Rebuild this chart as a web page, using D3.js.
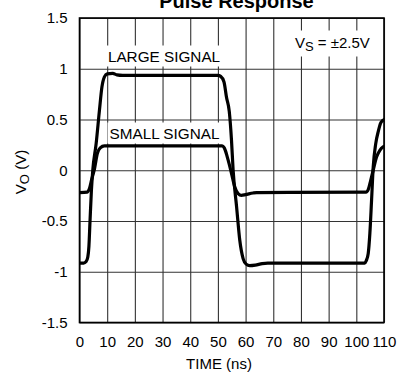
<!DOCTYPE html>
<html>
<head>
<meta charset="utf-8">
<script src="https://cdn.jsdelivr.net/npm/d3@7"></script>
<style>
  html, body { margin: 0; padding: 0; background: #fff; }
  svg { display: block; font-family: "Liberation Sans", Arial, Helvetica, sans-serif; }
</style>
</head>
<body>
<svg id="chart" width="404" height="373"></svg>
<script>
// ---- data ----
const xTicks = [0, 10, 20, 30, 40, 50, 60, 70, 80, 90, 100, 110];
const yTicks = [-1.5, -1, -0.5, 0, 0.5, 1, 1.5];
const yTickLabels = ["-1.5", "-1", "-0.5", "0", "0.5", "1", "1.5"];

// time (ns)
const largeT = [0, 1.5, 2.4, 3.0, 3.4, 3.8, 4.3, 4.8, 6.0, 7.2, 8.1, 9.0, 10, 12, 13.5, 15.6, 50, 51, 52.2, 53.1, 54.1, 54.9, 55.5, 56.75, 57.9, 59.1, 60.2, 61.5, 63.5, 66, 68, 103, 103.6, 104.3, 104.9, 105.5, 106.1, 107, 108, 108.7, 109.5, 110];
// VO (V)
const largeV = [-0.915, -0.915, -0.9, -0.855, -0.75, -0.5, -0.2, 0, 0.26, 0.59, 0.82, 0.92, 0.95, 0.955, 0.94, 0.935, 0.935, 0.925, 0.87, 0.72, 0.58, 0.30, 0, -0.36, -0.69, -0.87, -0.925, -0.94, -0.935, -0.92, -0.915, -0.915, -0.89, -0.82, -0.62, -0.30, 0.03, 0.26, 0.39, 0.46, 0.49, 0.5];

const smallT = [0, 2.8, 3.6, 4.4, 5.3, 6.5, 7.5, 9, 51.5, 52.3, 53.7, 54.9, 56.1, 57.3, 58.5, 60, 62.7, 64, 103.5, 104.3, 105.2, 106.1, 107.3, 108.5, 109.7, 110];
const smallV = [-0.22, -0.215, -0.18, -0.09, 0, 0.17, 0.22, 0.24, 0.24, 0.22, 0.1, -0.03, -0.165, -0.23, -0.247, -0.24, -0.224, -0.22, -0.215, -0.19, -0.1, 0, 0.13, 0.197, 0.23, 0.235];

const title = "Pulse Response";
const xTitle = "TIME (ns)";

// ---- layout ----
const svg = d3.select("#chart");
const L = 79.5, R = 384, T = 18, B = 322.5;
const x = d3.scaleLinear().domain([0, 110]).range([L, R]);
const y = d3.scaleLinear().domain([-1.5, 1.5]).range([B, T]);

// grid
const grid = svg.append("g");
grid.append("g")
  .attr("transform", `translate(0,${B})`)
  .call(d3.axisBottom(x).tickValues(xTicks).tickSize(-(B - T)).tickFormat(""))
  .call(g => g.select(".domain").remove())
  .call(g => g.selectAll("line").attr("stroke", "#333").attr("stroke-width", 1.1));
grid.append("g")
  .attr("transform", `translate(${L},0)`)
  .call(d3.axisLeft(y).tickValues(yTicks).tickSize(-(R - L)).tickFormat(""))
  .call(g => g.select(".domain").remove())
  .call(g => g.selectAll("line").attr("stroke", "#333").attr("stroke-width", 1.1));

// text labels with white boxes
function boxedText(g, build, pad) {
  const grp = g.append("g");
  const rect = grp.append("rect").attr("fill", "#fff");
  const t = build(grp);
  const bb = t.node().getBBox();
  rect.attr("x", bb.x - pad[0]).attr("y", bb.y - pad[1])
      .attr("width", bb.width + 2 * pad[0]).attr("height", bb.height + 2 * pad[1]);
  return grp;
}
const ann = svg.append("g");
boxedText(ann, g => g.append("text").attr("x", 164).attr("y", 61.5)
  .attr("text-anchor", "middle").attr("font-size", 15.3).attr("fill", "#000").text("LARGE SIGNAL"), [2, 2]);
boxedText(ann, g => g.append("text").attr("x", 164.5).attr("y", 138.5)
  .attr("text-anchor", "middle").attr("font-size", 15.3).attr("fill", "#000").text("SMALL SIGNAL"), [2, 2]);
boxedText(ann, g => {
  const t = g.append("text").attr("x", 295).attr("y", 47.5).attr("font-size", 15).attr("fill", "#000");
  t.append("tspan").text("V");
  t.append("tspan").attr("dy", 3).attr("font-size", 13).text("S");
  t.append("tspan").attr("dy", -3).text(" = \u00B12.5V");
  return t;
}, [3, 3]);

// curves
const line = d3.line().x(d => x(d[0])).y(d => y(d[1])).curve(d3.curveMonotoneX);
const largeData = largeT.map((t, i) => [t, largeV[i]]);
const smallData = smallT.map((t, i) => [t, smallV[i]]);
svg.append("defs").append("clipPath").attr("id", "clip")
  .append("rect").attr("x", L).attr("y", T).attr("width", R - L).attr("height", B - T);
const curves = svg.append("g").attr("clip-path", "url(#clip)");
[largeData, smallData].forEach(d => {
  curves.append("path").datum(d).attr("d", line)
    .attr("fill", "none").attr("stroke", "#000").attr("stroke-width", 3.2)
    .attr("stroke-linejoin", "round").attr("stroke-linecap", "round");
});

// border
svg.append("rect").attr("x", L).attr("y", T).attr("width", R - L).attr("height", B - T)
  .attr("fill", "none").attr("stroke", "#000").attr("stroke-width", 1.6);

// tick labels
svg.append("g")
  .attr("transform", `translate(0,${B})`)
  .call(d3.axisBottom(x).tickValues(xTicks).tickSize(0).tickPadding(13.5).tickFormat(d => String(d)))
  .call(g => g.select(".domain").remove())
  .call(g => g.selectAll("text").attr("font-size", 15).attr("fill", "#000")
    .attr("font-family", "Liberation Sans, Arial, sans-serif"));
svg.append("g")
  .attr("transform", `translate(${L},0)`)
  .call(d3.axisLeft(y).tickValues(yTicks).tickSize(0).tickPadding(12)
    .tickFormat((d, i) => yTickLabels[i]))
  .call(g => g.select(".domain").remove())
  .call(g => g.selectAll("text").attr("font-size", 15).attr("fill", "#000")
    .attr("font-family", "Liberation Sans, Arial, sans-serif"));

// titles
svg.append("text").attr("x", 236.5).attr("y", 7.5).attr("text-anchor", "middle")
  .attr("font-size", 20).attr("font-weight", "bold").attr("fill", "#000").text(title);
svg.append("text").attr("x", 219).attr("y", 369).attr("text-anchor", "middle")
  .attr("font-size", 15).attr("fill", "#000").text(xTitle);
const yt = svg.append("text").attr("transform", "translate(26,172) rotate(-90)")
  .attr("text-anchor", "middle").attr("font-size", 15).attr("fill", "#000");
yt.append("tspan").text("V");
yt.append("tspan").attr("dy", 3).attr("font-size", 13).text("O");
yt.append("tspan").attr("dy", -3).text(" (V)");
</script>
</body>
</html>
